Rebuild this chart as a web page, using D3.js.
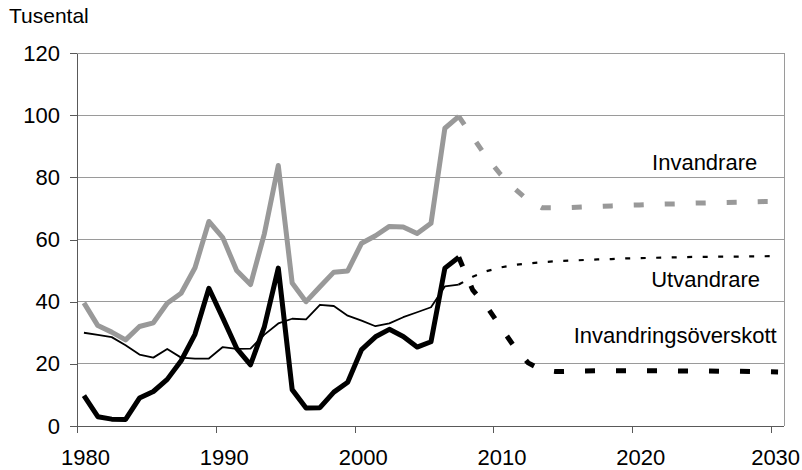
<!DOCTYPE html>
<html>
<head>
<meta charset="utf-8" />
<script src="https://d3js.org/d3.v7.min.js"></script>
<style>
  body { margin: 0; background: #fff; }
  svg { font-family: "Liberation Sans", Arial, sans-serif; }
  .grid line { stroke: #9a9a9a; shape-rendering: crispEdges; }
  .axis path, .axis line { stroke: #595959; shape-rendering: crispEdges; }
  .axis text { font-size: 22px; fill: #000; }
  .line { fill: none; }
</style>
</head>
<body>
<svg width="802" height="470"></svg>
<script>

// historical years and values (thousands)
var histYears = [1980, 1981, 1982, 1983, 1984, 1985, 1986, 1987, 1988, 1989,
  1990, 1991, 1992, 1993, 1994, 1995, 1996, 1997, 1998, 1999,
  2000, 2001, 2002, 2003, 2004, 2005, 2006, 2007];

var invandrare = [39.6, 32.3, 30.2, 27.7, 32.0, 33.2, 39.5, 42.7, 50.9, 65.8,
  60.6, 50.0, 45.5, 61.9, 83.8, 46.0, 40.0, 44.8, 49.5, 49.9,
  58.8, 61.2, 64.2, 64.0, 61.9, 65.2, 95.8, 99.6];

var utvandrare = [30.0, 29.3, 28.6, 26.0, 23.0, 22.0, 24.8, 22.0, 21.7, 21.7,
  25.4, 24.8, 24.9, 29.4, 33.0, 34.5, 34.3, 39.0, 38.6, 35.5,
  33.9, 32.1, 33.0, 35.0, 36.6, 38.2, 44.9, 45.5];

var netto = [9.8, 3.0, 2.2, 2.1, 9.0, 11.1, 15.0, 21.0, 29.5, 44.3,
  34.8, 25.0, 19.7, 32.0, 50.8, 11.7, 5.8, 5.9, 10.9, 14.1,
  24.6, 28.7, 31.1, 28.8, 25.4, 27.1, 50.8, 54.3];

// projections, starting from the last observed year
var projYears = [2007, 2008, 2009, 2010, 2011, 2012, 2013, 2014, 2015, 2016,
  2017, 2018, 2019, 2020, 2021, 2022, 2023, 2024, 2025, 2026,
  2027, 2028, 2029, 2030];

var invandrareProj = [99.6, 93.0, 86.5, 81.0, 76.5, 72.5, 70.2, 70.2, 70.3, 70.5,
  70.6, 70.8, 71.0, 71.1, 71.3, 71.4, 71.5, 71.7, 71.8, 71.9,
  72.0, 72.1, 72.2, 72.2];

var utvandrareProj = [45.5, 48.0, 49.8, 51.0, 51.8, 52.3, 52.7, 53.0, 53.2, 53.4,
  53.6, 53.7, 53.9, 54.0, 54.1, 54.2, 54.3, 54.4, 54.4, 54.5,
  54.5, 54.6, 54.6, 54.7];

var nettoProj = [54.3, 43.8, 38.5, 32.0, 25.5, 20.3, 18.0, 17.5, 17.6, 17.7,
  17.8, 17.8, 17.8, 17.8, 17.8, 17.8, 17.7, 17.7, 17.7, 17.6,
  17.6, 17.5, 17.5, 17.4];

var yTicks = [0, 20, 40, 60, 80, 100, 120];
var xTicks = [1980, 1990, 2000, 2010, 2020, 2030];

var svg = d3.select("svg");

// scales (annual values sit mid-year)
var x = d3.scaleLinear().domain([1980, 2031]).range([77, 785]);
var y = d3.scaleLinear().domain([0, 120]).range([426, 53]);

function pairs(years, vals) {
  return years.map(function(yr, i) { return {year: yr, v: vals[i]}; });
}

var line = d3.line()
  .x(function(d) { return x(d.year + 0.5); })
  .y(function(d) { return y(d.v); });

// gridlines
svg.append("g")
  .attr("class", "grid")
  .selectAll("line")
  .data(yTicks.slice(1))
  .enter().append("line")
  .attr("x1", 77)
  .attr("x2", 784)
  .attr("y1", function(d) { return y(d); })
  .attr("y2", function(d) { return y(d); });

// right border of plot area
svg.append("line")
  .attr("x1", 784).attr("x2", 784)
  .attr("y1", y(120)).attr("y2", y(0))
  .style("stroke", "#9a9a9a")
  .style("shape-rendering", "crispEdges");

// axes
var yAxis = svg.append("g")
  .attr("class", "axis")
  .attr("transform", "translate(77,0)")
  .call(d3.axisLeft(y).tickValues(yTicks).tickSize(7).tickPadding(10).tickSizeOuter(0));

var xAxis = svg.append("g")
  .attr("class", "axis")
  .attr("transform", "translate(0,426)")
  .call(d3.axisBottom(x).tickValues(xTicks).tickSize(7).tickSizeOuter(0).tickFormat(d3.format("d")));

// labels sit a little right of their ticks; the last one is kept inside the frame
xAxis.selectAll("text")
  .attr("dx", function(d) { return d === 2030 ? 4 : 8; })
  .attr("y", 23)
  .attr("dy", "0.71em");

xAxis.select(".domain").attr("d", "M77,0.5H784");

// series
var series = [
  {data: pairs(histYears, invandrare), color: "#999999", width: 5, dash: null},
  {data: pairs(histYears, utvandrare), color: "#000", width: 1.8, dash: null},
  {data: pairs(histYears, netto), color: "#000", width: 5, dash: null},
  {data: pairs(projYears, invandrareProj), color: "#999999", width: 5, dash: "10,21"},
  {data: pairs(projYears, utvandrareProj), color: "#000", width: 2.2, dash: "5,10.5"},
  {data: pairs(projYears, nettoProj), color: "#000", width: 5, dash: "10,21"}
];

svg.append("g")
  .selectAll("path")
  .data(series)
  .enter().append("path")
  .attr("class", "line")
  .attr("d", function(d) { return line(d.data); })
  .style("stroke", function(d) { return d.color; })
  .style("stroke-width", function(d) { return d.width; })
  .style("stroke-linejoin", "round")
  .style("stroke-dasharray", function(d) { return d.dash; });

// series labels
var labels = [
  {text: "Invandrare", year: 2029.0, v: 82.4},
  {text: "Utvandrare", year: 2029.2, v: 44.7},
  {text: "Invandringsöverskott", year: 2030.4, v: 26.7}
];

svg.append("g")
  .selectAll("text")
  .data(labels)
  .enter().append("text")
  .attr("x", function(d) { return x(d.year); })
  .attr("y", function(d) { return y(d.v); })
  .attr("text-anchor", "end")
  .style("font-size", "22px")
  .text(function(d) { return d.text; });

svg.append("text")
  .attr("x", 9)
  .attr("y", 23)
  .style("font-size", "21px")
  .text("Tusental");

</script>
</body>
</html>
